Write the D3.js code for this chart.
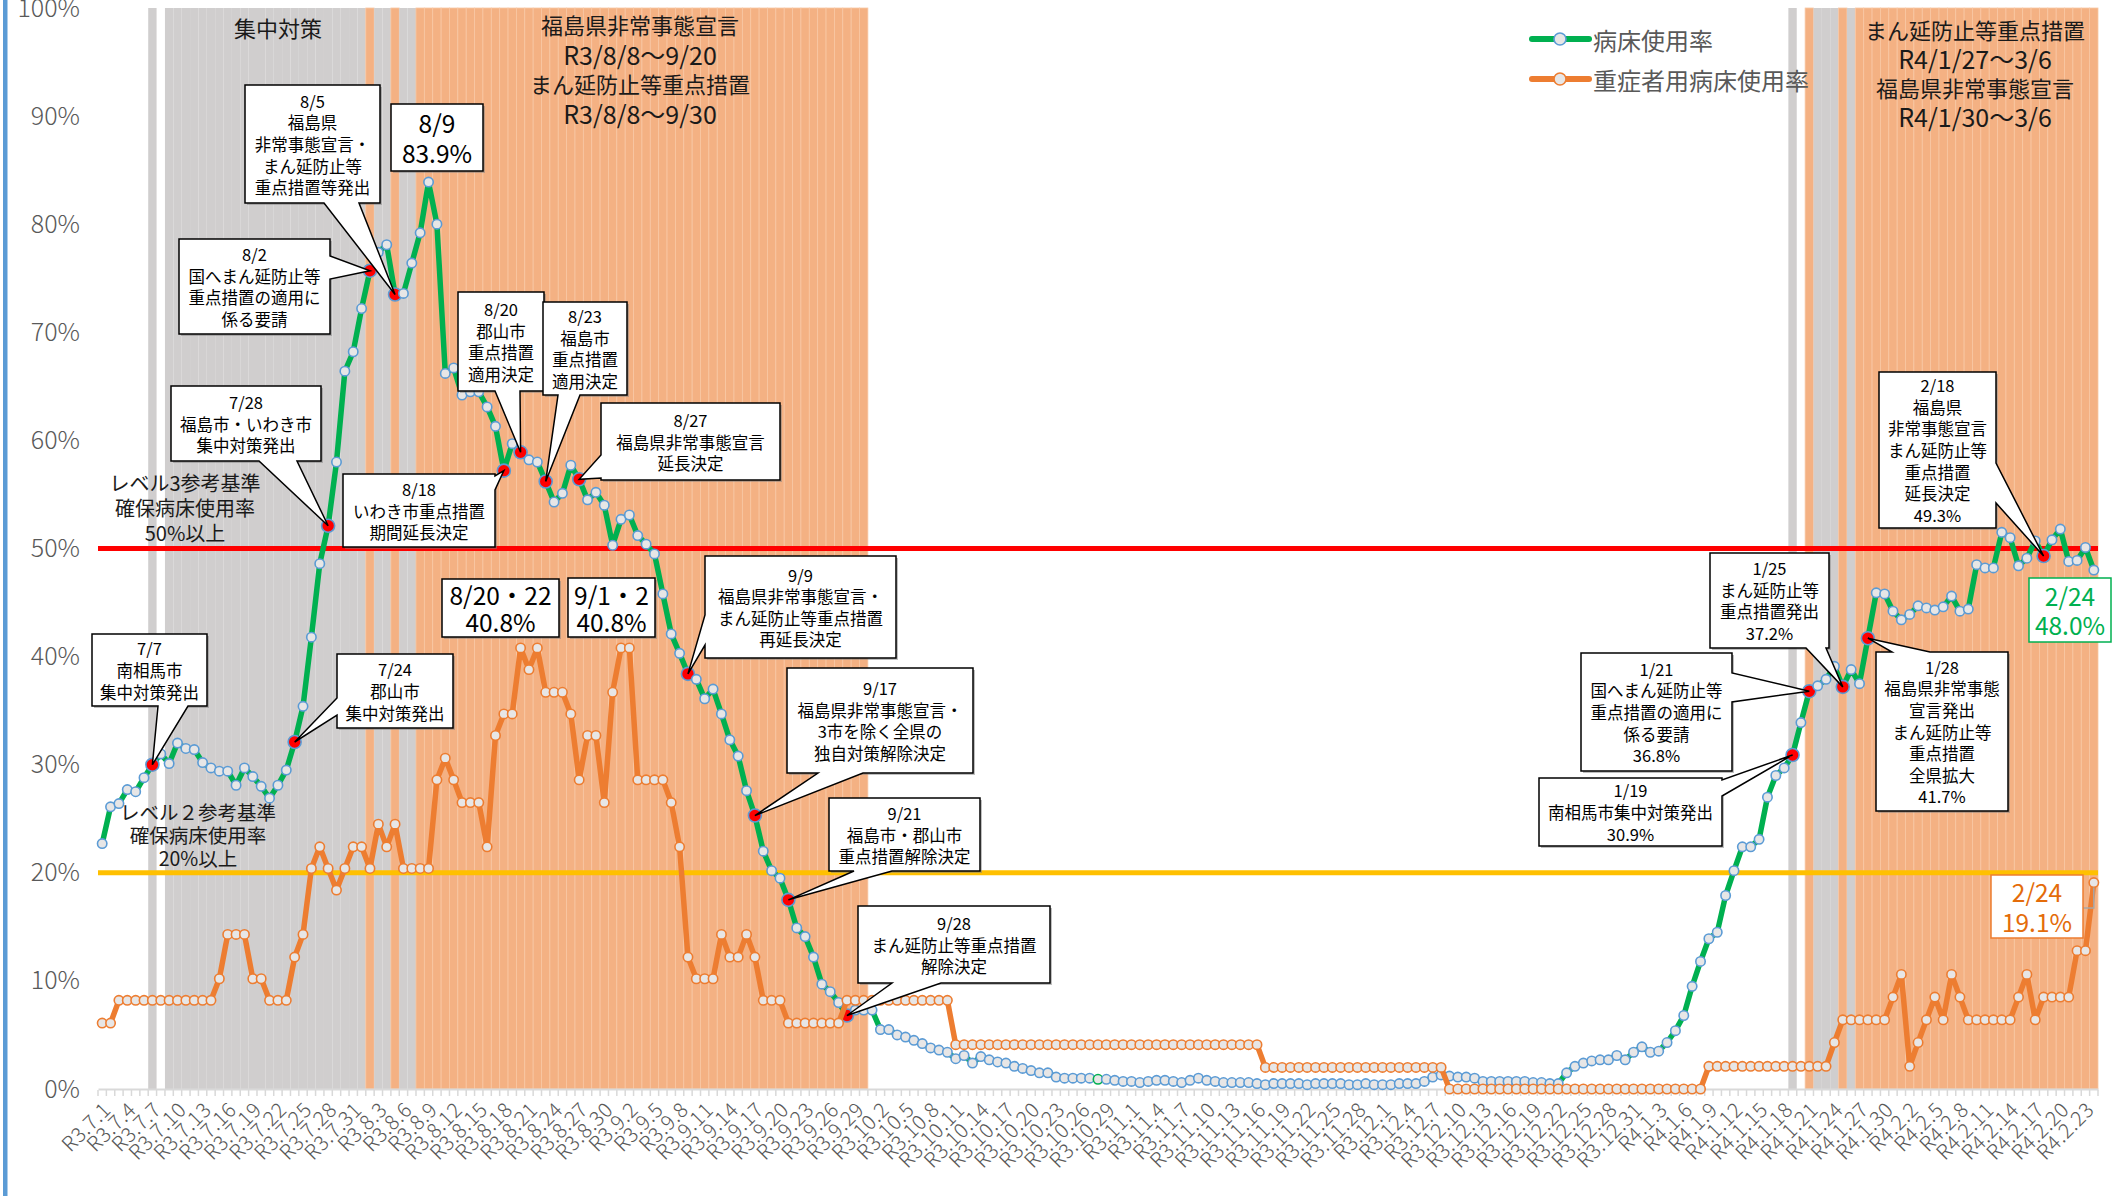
<!DOCTYPE html>
<html>
<head>
<meta charset="utf-8">
<script src="https://cdn.jsdelivr.net/npm/d3@7"></script>
<style>
body { margin: 0; background: #fff; }
svg { display: block; font-family: "Noto Sans CJK JP", "Noto Sans", sans-serif; }
</style>
</head>
<body>
<script>
const WIDTH = 2113
const HEIGHT = 1196

const PLOT = {
    left: 98,
    right: 2098,
    top: 8,
    bottom: 1089
}

// 年号, 月, 日数
const months = [
    ["R3", 7, 31], ["R3", 8, 31], ["R3", 9, 30], ["R3", 10, 31],
    ["R3", 11, 30], ["R3", 12, 31], ["R4", 1, 31], ["R4", 2, 24]
]
const dates = months.flatMap(([era, m, n]) => d3.range(1, n + 1).map(d => `${era}.${m}.${d}`))

// 病床使用率 (%)
const bedRate = [
    22.7, 26.1, 26.4, 27.7, 27.5, 28.8, 30.0, 31.0, 30.1, 32.0, 31.5, 31.4, 30.2, 29.7, 29.4, 29.4,
    28.1, 29.7, 28.9, 28.0, 26.9, 28.1, 29.5, 32.1, 35.4, 41.8, 48.6, 52.1, 58.0, 66.4, 68.2,
    72.2, 75.7, 77.4, 78.1, 73.5, 73.6, 76.4, 79.2, 83.9, 80.0, 66.2, 66.7, 64.2, 64.5, 64.5, 63.1,
    61.3, 57.2, 59.7, 58.9, 58.2, 58.0, 56.2, 54.3, 55.1, 57.7, 56.4, 54.5, 55.2, 54.0, 50.3,
    52.7, 53.1, 51.2, 50.4, 49.5, 45.8, 42.1, 40.3, 38.4, 37.9, 36.1, 37.0, 34.7, 32.3, 30.8,
    27.6, 25.3, 22.0, 20.2, 19.5, 17.5, 14.9, 14.1, 12.2, 9.7, 9.0, 8.0, 6.8, 7.3, 7.3,
    7.3, 5.5, 5.5, 5.0, 4.8, 4.5, 4.2, 3.8, 3.6, 3.4, 2.8, 3.1, 2.4, 3.0, 2.7, 2.5,
    2.4, 2.1, 1.9, 1.7, 1.5, 1.5, 1.1, 1.0, 1.0, 1.0, 1.0, 0.9, 0.9, 0.8, 0.7,
    0.7, 0.6, 0.7, 0.8, 0.8, 0.7, 0.6, 0.8, 1.0, 0.8, 0.7, 0.6, 0.6, 0.6, 0.6,
    0.5, 0.4, 0.5, 0.5, 0.5, 0.5, 0.4, 0.5, 0.5, 0.5, 0.5, 0.4, 0.4, 0.5, 0.4,
    0.4, 0.4, 0.5, 0.5, 0.5, 0.7, 1.1, 1.3, 1.2, 1.1, 1.1, 1.0, 0.7, 0.7, 0.7, 0.7,
    0.7, 0.7, 0.6, 0.6, 0.5, 0.5, 1.5, 2.1, 2.4, 2.6, 2.7, 2.7, 3.1, 2.7, 3.4,
    3.9, 3.4, 3.5, 4.3, 5.4, 6.8, 9.5, 11.8, 13.9, 14.5, 17.9, 20.2, 22.4, 22.4, 23.1, 27.0,
    29.0, 29.7, 30.9, 33.9, 36.8, 37.3, 37.9, 39.1, 37.2, 38.8, 37.5, 41.7, 45.9, 45.8, 44.2,
    43.4, 43.9, 44.7, 44.5, 44.3, 44.6, 45.6, 44.2, 44.4, 48.5, 48.2, 48.2,
    51.5, 51.0, 48.4, 49.1, 50.7, 49.3, 50.8, 51.8, 48.8, 48.9, 50.1, 48.0
]

// 重症者用病床使用率 (%)
const severeRate = [
    6.1, 6.1, 8.2, 8.2, 8.2, 8.2, 8.2, 8.2, 8.2, 8.2, 8.2, 8.2, 8.2, 8.2, 10.2, 14.3,
    14.3, 14.3, 10.2, 10.2, 8.2, 8.2, 8.2, 12.2, 14.3, 20.4, 22.4, 20.4, 18.4, 20.4, 22.4,
    22.4, 20.4, 24.5, 22.4, 24.5, 20.4, 20.4, 20.4, 20.4, 28.6, 30.6, 28.6, 26.5, 26.5, 26.5, 22.4,
    32.7, 34.7, 34.7, 40.8, 38.8, 40.8, 36.7, 36.7, 36.7, 34.7, 28.6, 32.7, 32.7, 26.5, 36.7,
    40.8, 40.8, 28.6, 28.6, 28.6, 28.6, 26.5, 22.4, 12.2, 10.2, 10.2, 10.2, 14.3, 12.2, 12.2,
    14.3, 12.2, 8.2, 8.2, 8.2, 6.1, 6.1, 6.1, 6.1, 6.1, 6.1, 6.1, 8.2, 8.2, 8.2,
    8.2, 8.2, 8.2, 8.2, 8.2, 8.2, 8.2, 8.2, 8.2, 8.2, 4.1, 4.1, 4.1, 4.1, 4.1, 4.1,
    4.1, 4.1, 4.1, 4.1, 4.1, 4.1, 4.1, 4.1, 4.1, 4.1, 4.1, 4.1, 4.1, 4.1, 4.1,
    4.1, 4.1, 4.1, 4.1, 4.1, 4.1, 4.1, 4.1, 4.1, 4.1, 4.1, 4.1, 4.1, 4.1, 4.1,
    4.1, 2.0, 2.0, 2.0, 2.0, 2.0, 2.0, 2.0, 2.0, 2.0, 2.0, 2.0, 2.0, 2.0, 2.0,
    2.0, 2.0, 2.0, 2.0, 2.0, 2.0, 2.0, 2.0, 0, 0, 0, 0, 0, 0, 0, 0,
    0, 0, 0, 0, 0, 0, 0, 0, 0, 0, 0, 0, 0, 0, 0,
    0, 0, 0, 0, 0, 0, 0, 0, 2.1, 2.1, 2.1, 2.1, 2.1, 2.1, 2.1, 2.1,
    2.1, 2.1, 2.1, 2.1, 2.1, 2.1, 2.1, 4.3, 6.4, 6.4, 6.4, 6.4, 6.4, 6.4, 8.5,
    10.6, 2.1, 4.3, 6.4, 8.5, 6.4, 10.6, 8.5, 6.4, 6.4, 6.4, 6.4,
    6.4, 6.4, 8.5, 10.6, 6.4, 8.5, 8.5, 8.5, 8.5, 12.8, 12.8, 19.1
]

// 赤マーカーの日
const eventDates = [
    "R3.7.7", "R3.7.24", "R3.7.28", "R3.8.2", "R3.8.5", "R3.8.18", "R3.8.20", "R3.8.23",
    "R3.8.27", "R3.9.9", "R3.9.17", "R3.9.21", "R3.9.28",
    "R4.1.19", "R4.1.21", "R4.1.25", "R4.1.28", "R4.2.18"
]
const hollowDates = ["R3.10.28"]

// 背景の期間
const grayRanges = [
    ["R3.7.7", "R3.7.7"], ["R3.7.9", "R3.8.1"], ["R3.8.3", "R3.8.4"], ["R3.8.6", "R3.8.7"],
    ["R4.1.19", "R4.1.19"], ["R4.1.22", "R4.1.24"], ["R4.1.26", "R4.1.26"]
]
const orangeRanges = [
    ["R3.8.2", "R3.8.2"], ["R3.8.5", "R3.8.5"], ["R3.8.8", "R3.9.30"],
    ["R4.1.21", "R4.1.21"], ["R4.1.25", "R4.1.25"], ["R4.1.27", "R4.2.24"]
]

// 吹き出し
const callouts = [
    { date: "R3.7.7", lines: ["7/7", "南相馬市", "集中対策発出"], box: [92, 634, 115, 72], side: "bottom", base: [158, 188] },
    { date: "R3.7.24", lines: ["7/24", "郡山市", "集中対策発出"], box: [337, 654, 116, 74], side: "left", base: [698, 715] },
    { date: "R3.7.28", lines: ["7/28", "福島市・いわき市", "集中対策発出"], box: [171, 386, 150, 75], side: "bottom", base: [259, 297] },
    { date: "R3.8.2", lines: ["8/2", "国へまん延防止等", "重点措置の適用に", "係る要請"], box: [179, 239, 151, 95], side: "right", base: [256, 279] },
    { date: "R3.8.5", lines: ["8/5", "福島県", "非常事態宣言・", "まん延防止等", "重点措置等発出"], box: [245, 85, 135, 118], side: "bottom", base: [324, 359] },
    { date: "R3.8.18", lines: ["8/18", "いわき市重点措置", "期間延長決定"], box: [343, 474, 152, 73], side: "right", base: [476, 490] },
    { date: "R3.8.20", lines: ["8/20", "郡山市", "重点措置", "適用決定"], box: [458, 292, 86, 99], side: "bottom", base: [495, 520] },
    { date: "R3.8.23", lines: ["8/23", "福島市", "重点措置", "適用決定"], box: [543, 302, 84, 93], side: "bottom", base: [558, 580] },
    { date: "R3.8.27", lines: ["8/27", "福島県非常事態宣言", "延長決定"], box: [601, 403, 179, 77], side: "left", base: [455, 478] },
    { date: "R3.9.9", lines: ["9/9", "福島県非常事態宣言・", "まん延防止等重点措置", "再延長決定"], box: [705, 556, 191, 102], side: "left", base: [615, 645] },
    { date: "R3.9.17", lines: ["9/17", "福島県非常事態宣言・", "3市を除く全県の", "独自対策解除決定"], box: [787, 668, 186, 105], side: "bottom", base: [818, 863] },
    { date: "R3.9.21", lines: ["9/21", "福島市・郡山市", "重点措置解除決定"], box: [829, 798, 151, 73], side: "bottom", base: [854, 892] },
    { date: "R3.9.28", lines: ["9/28", "まん延防止等重点措置", "解除決定"], box: [858, 906, 192, 77], side: "bottom", base: [892, 941] },
    { date: "R4.1.19", lines: ["1/19", "南相馬市集中対策発出", "30.9%"], box: [1539, 778, 183, 68], side: "right", base: [780, 796] },
    { date: "R4.1.21", lines: ["1/21", "国へまん延防止等", "重点措置の適用に", "係る要請", "36.8%"], box: [1581, 653, 151, 118], side: "right", base: [673, 702] },
    { date: "R4.1.25", lines: ["1/25", "まん延防止等", "重点措置発出", "37.2%"], box: [1710, 553, 119, 95], side: "bottom", base: [1806, 1826] },
    { date: "R4.1.28", lines: ["1/28", "福島県非常事態", "宣言発出", "まん延防止等", "重点措置", "全県拡大", "41.7%"], box: [1876, 652, 132, 159], side: "top", base: [1892, 1930] },
    { date: "R4.2.18", lines: ["2/18", "福島県", "非常事態宣言", "まん延防止等", "重点措置", "延長決定", "49.3%"], box: [1879, 372, 117, 156], side: "right", base: [463, 503] }
]

const valueBoxes = [
    { lines: ["8/9", "83.9%"], box: [391, 104, 92, 67], lh: 30, color: "#000" },
    { lines: ["8/20・22", "40.8%"], box: [442, 579, 117, 58], lh: 27, color: "#000" },
    { lines: ["9/1・2", "40.8%"], box: [568, 578, 87, 59], lh: 27, color: "#000" },
    { lines: ["2/24", "48.0%"], box: [2029, 578, 82, 64], lh: 29, color: "#00B050" },
    { lines: ["2/24", "19.1%"], box: [1991, 875, 92, 63], lh: 30, color: "#E46C0A" }
]

const freeTexts = [
    { lines: ["集中対策"], x: 278, y: 27, lh: 0, fs: 22 },
    { lines: ["福島県非常事態宣言", "R3/8/8～9/20", "まん延防止等重点措置", "R3/8/8～9/30"], x: 640, y: 24, lh: 29.7, fs: 22 },
    { lines: ["まん延防止等重点措置", "R4/1/27～3/6", "福島県非常事態宣言", "R4/1/30～3/6"], x: 1975, y: 29, lh: 29, fs: 22 },
    { lines: ["レベル3参考基準", "確保病床使用率", "50%以上"], x: 185, y: 482, lh: 25, fs: 20 },
    { lines: ["レベル２参考基準", "確保病床使用率", "20%以上"], x: 198, y: 811, lh: 23, fs: 19.5 }
]

const seriesNames = ["病床使用率", "重症者用病床使用率"]


const svg = d3
    .select("body")
    .append("svg")
    .attr("width", WIDTH)
    .attr("height", HEIGHT)

const x = d3.scaleBand().domain(dates).range([PLOT.left, PLOT.right])
const cx = d => x(d) + x.bandwidth() / 2
const y = d3.scaleLinear().domain([0, 100]).range([PLOT.bottom, PLOT.top])

const idx = d => dates.indexOf(d)
const inRanges = (i, ranges) => ranges.some(([a, b]) => i >= idx(a) && i <= idx(b))

// 左端の枠線
svg.append("rect")
    .attr("x", 3).attr("y", 0)
    .attr("width", 4.5).attr("height", HEIGHT)
    .attr("fill", "#5B9BD5")

// 背景の期間バー
svg.append("g")
    .selectAll("rect")
    .data(dates)
    .join("rect")
    .attr("x", d => x(d))
    .attr("width", x.bandwidth())
    .attr("y", y(100))
    .attr("height", y(0) - y(100))
    .attr("fill", (d, i) => inRanges(i, orangeRanges) ? "#F4B183" : inRanges(i, grayRanges) ? "#D0CECE" : "none")
    .attr("stroke", (d, i) => inRanges(i, orangeRanges) ? "#F8C7A4" : "none")
    .attr("stroke-width", 0.8)

// 軸
const yAxis = svg.append("g")
    .attr("transform", `translate(${PLOT.left},0)`)
    .call(d3.axisLeft(y)
        .tickValues(d3.range(0, 101, 10))
        .tickFormat(d => d + "%")
        .tickSize(0)
        .tickPadding(18))
yAxis.select(".domain").remove()
yAxis.selectAll("text")
    .attr("font-size", 25)
    .attr("font-weight", 300)
    .attr("fill", "#595959")
    .attr("font-family", "'Noto Sans CJK JP', sans-serif")

const xAxis = svg.append("g")
    .attr("transform", `translate(0,${PLOT.bottom})`)
    .call(d3.axisBottom(x)
        .tickValues(dates.filter((d, i) => i % 3 === 0))
        .tickSize(0)
        .tickSizeOuter(0)
        .tickPadding(0))
xAxis.select(".domain")
    .attr("stroke", "#D9D9D9")
    .attr("stroke-width", 2)
xAxis.selectAll("text")
    .attr("y", 0)
    .attr("dy", "0.35em")
    .attr("text-anchor", "end")
    .attr("transform", "translate(5,17) rotate(-45)")
    .attr("font-size", 20.5)
    .attr("letter-spacing", 0.6)
    .attr("font-weight", 300)
    .attr("fill", "#595959")
    .attr("font-family", "'Noto Sans CJK JP', sans-serif")

svg.append("g")
    .selectAll("line")
    .data(dates.concat([null]))
    .join("line")
    .attr("x1", (d, i) => PLOT.left + i * x.step())
    .attr("x2", (d, i) => PLOT.left + i * x.step())
    .attr("y1", PLOT.bottom + 1)
    .attr("y2", PLOT.bottom + 7)
    .attr("stroke", "#D9D9D9")
    .attr("stroke-width", 1.5)

// 参考基準線
svg.append("line")
    .attr("x1", PLOT.left).attr("x2", PLOT.right)
    .attr("y1", y(50)).attr("y2", y(50))
    .attr("stroke", "#FF0000").attr("stroke-width", 5)
svg.append("line")
    .attr("x1", PLOT.left).attr("x2", PLOT.right)
    .attr("y1", y(20)).attr("y2", y(20))
    .attr("stroke", "#FFC000").attr("stroke-width", 5)

// 系列
const line = d3.line().x(d => cx(d.date)).y(d => y(d.v))

const bedData = dates.map((d, i) => ({ date: d, v: bedRate[i] }))
const severeData = dates.map((d, i) => ({ date: d, v: severeRate[i] }))

svg.append("path")
    .datum(bedData)
    .attr("d", line)
    .attr("fill", "none")
    .attr("stroke", "#00B050")
    .attr("stroke-width", 5.5)
    .attr("stroke-linejoin", "round")

svg.append("g")
    .selectAll("circle")
    .data(bedData)
    .join("circle")
    .attr("cx", d => cx(d.date))
    .attr("cy", d => y(d.v))
    .attr("r", d => eventDates.includes(d.date) ? 6.5 : 4.7)
    .attr("fill", d => eventDates.includes(d.date) ? "#FF0000" : "#E7E6E6")
    .attr("stroke", d => hollowDates.includes(d.date) ? "#00B050" : "#5B9BD5")
    .attr("stroke-width", 1.6)

svg.append("path")
    .datum(severeData)
    .attr("d", line)
    .attr("fill", "none")
    .attr("stroke", "#ED7D31")
    .attr("stroke-width", 5.5)
    .attr("stroke-linejoin", "round")

svg.append("g")
    .selectAll("circle")
    .data(severeData)
    .join("circle")
    .attr("cx", d => cx(d.date))
    .attr("cy", d => y(d.v))
    .attr("r", 4.7)
    .attr("fill", "#E7E6E6")
    .attr("stroke", "#ED7D31")
    .attr("stroke-width", 1.6)

// 凡例
const legend = svg.append("g")
seriesNames.forEach((name, i) => {
    const ly = 39 + i * 40
    const col = i === 0 ? "#00B050" : "#ED7D31"
    legend.append("line")
        .attr("x1", 1532).attr("x2", 1589)
        .attr("y1", ly).attr("y2", ly)
        .attr("stroke", col).attr("stroke-width", 6)
        .attr("stroke-linecap", "round")
    legend.append("circle")
        .attr("cx", 1560).attr("cy", ly).attr("r", 6)
        .attr("fill", "#E7E6E6")
        .attr("stroke", i === 0 ? "#5B9BD5" : "#ED7D31")
        .attr("stroke-width", 1.6)
    legend.append("text")
        .attr("x", 1593).attr("y", ly)
        .attr("dominant-baseline", "central")
        .attr("font-size", 24)
        .attr("fill", "#595959")
        .text(name)
})

// 文字
function writeLines(g, lines, cxp, cyp, lh, fs, color) {
    lines.forEach((t, i) => {
        g.append("text")
            .attr("x", cxp)
            .attr("y", cyp + (i - (lines.length - 1) / 2) * lh)
            .attr("text-anchor", "middle")
            .attr("dominant-baseline", "central")
            .attr("font-size", /^[0-9R]/.test(t) && fs > 21 ? fs + 3 : fs)
            .attr("fill", color)
            .text(t)
    })
}

freeTexts.forEach(t => {
    const g = svg.append("g")
    const mid = t.y + (t.lines.length - 1) / 2 * t.lh
    writeLines(g, t.lines, t.x, mid, t.lh, t.fs, "#1a1a1a")
})

function calloutPath(c) {
    const [bx, by, bw, bh] = c.box
    const tx = cx(c.date)
    const ty = y(bedRate[idx(c.date)])
    const [a, b] = c.base
    const p = [[bx, by]]
    if (c.side === "top") p.push([a, by], [tx, ty], [b, by])
    p.push([bx + bw, by])
    if (c.side === "right") p.push([bx + bw, a], [tx, ty], [bx + bw, b])
    p.push([bx + bw, by + bh])
    if (c.side === "bottom") p.push([b, by + bh], [tx, ty], [a, by + bh])
    p.push([bx, by + bh])
    if (c.side === "left") p.push([bx, b], [tx, ty], [bx, a])
    return "M" + p.map(q => q.join(",")).join("L") + "Z"
}

const calloutG = svg.append("g")
callouts.forEach(c => {
    const [bx, by, bw, bh] = c.box
    calloutG.append("rect")
        .attr("x", bx + 2).attr("y", by + 2)
        .attr("width", bw).attr("height", bh)
        .attr("fill", "#7F7F7F").attr("opacity", 0.5)
    calloutG.append("path")
        .attr("d", calloutPath(c))
        .attr("fill", "#fff")
        .attr("stroke", "#000")
        .attr("stroke-width", 1.5)
        .attr("stroke-linejoin", "miter")
    writeLines(calloutG, c.lines, bx + bw / 2, by + bh / 2, 21.6, 16.5, "#000")
})

// 19.1% の引き出し線
const lastDate = dates[dates.length - 1]
svg.append("path")
    .attr("d", `M2083,908H${cx(lastDate)}V${y(severeRate[severeRate.length - 1]) + 5}`)
    .attr("fill", "none")
    .attr("stroke", "#A6A6A6")
    .attr("stroke-width", 1.5)

valueBoxes.forEach(v => {
    const [bx, by, bw, bh] = v.box
    const g = svg.append("g")
    if (v.color === "#000") {
        g.append("rect")
            .attr("x", bx + 2).attr("y", by + 2)
            .attr("width", bw).attr("height", bh)
            .attr("fill", "#7F7F7F").attr("opacity", 0.5)
    }
    g.append("rect")
        .attr("x", bx).attr("y", by)
        .attr("width", bw).attr("height", bh)
        .attr("fill", "#fff")
        .attr("stroke", v.color === "#E46C0A" ? "#ED7D31" : v.color)
        .attr("stroke-width", 1.5)
    writeLines(g, v.lines, bx + bw / 2, by + bh / 2, v.lh, 21.5, v.color)
})
</script>
</body>
</html>
